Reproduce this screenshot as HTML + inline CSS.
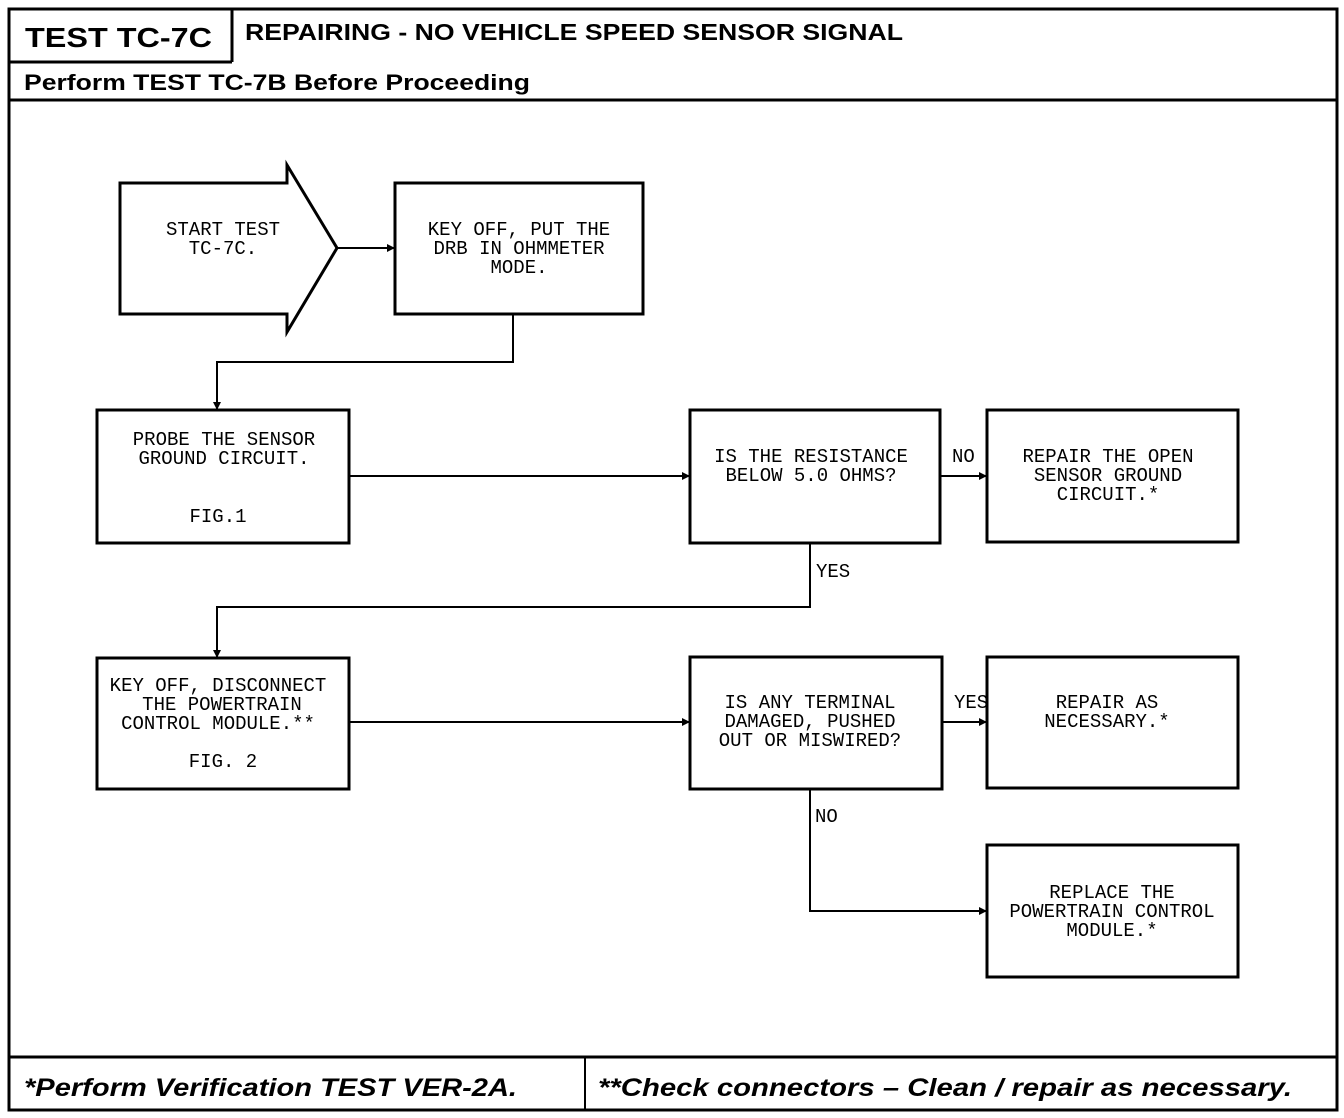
<!DOCTYPE html>
<html><head><meta charset="utf-8"><style>
html,body{margin:0;padding:0;background:#fff}
svg{display:block}
.m{font-family:"Liberation Mono",monospace;font-size:19px;fill:#000;text-anchor:middle}
.l{font-family:"Liberation Mono",monospace;font-size:19px;fill:#000}
.h{font-family:"Liberation Sans",sans-serif;font-weight:bold;fill:#000}
</style></head><body>
<svg width="1344" height="1118" viewBox="0 0 1344 1118" xmlns="http://www.w3.org/2000/svg">
<defs><marker id="a" markerWidth="8" markerHeight="8" refX="7" refY="4" orient="auto" markerUnits="userSpaceOnUse"><path d="M0,0 L8,4 L0,8 z" fill="#000"/></marker></defs>
<g fill="none" stroke="#000" stroke-width="3">
<rect x="9" y="9" width="1328" height="1101"/>
<line x1="9" y1="62" x2="232" y2="62"/>
<line x1="232" y1="9" x2="232" y2="62"/>
<line x1="9" y1="100" x2="1337" y2="100"/>
<line x1="9" y1="1057" x2="1337" y2="1057"/>
<line x1="585" y1="1057" x2="585" y2="1110" stroke-width="2"/>
<path d="M120,183 L287,183 L287,165 L337,248 L287,332 L287,314 L120,314 Z"/>
<rect x="395" y="183" width="248" height="131"/>
<rect x="97" y="410" width="252" height="133"/>
<rect x="690" y="410" width="250" height="133"/>
<rect x="987" y="410" width="251" height="132"/>
<rect x="97" y="658" width="252" height="131"/>
<rect x="690" y="657" width="252" height="132"/>
<rect x="987" y="657" width="251" height="131"/>
<rect x="987" y="845" width="251" height="132"/>
</g>
<g fill="none" stroke="#000" stroke-width="2">
<line x1="337" y1="248" x2="394" y2="248" marker-end="url(#a)"/>
<polyline points="513,314 513,362 217,362 217,409" marker-end="url(#a)"/>
<line x1="349" y1="476" x2="689" y2="476" marker-end="url(#a)"/>
<line x1="940" y1="476" x2="986" y2="476" marker-end="url(#a)"/>
<polyline points="810,543 810,607 217,607 217,657" marker-end="url(#a)"/>
<line x1="349" y1="722" x2="689" y2="722" marker-end="url(#a)"/>
<line x1="942" y1="722" x2="986" y2="722" marker-end="url(#a)"/>
<polyline points="810,789 810,911 986,911" marker-end="url(#a)"/>
</g>
<text class="h" x="25" y="47" font-size="28" textLength="187" lengthAdjust="spacingAndGlyphs">TEST TC-7C</text>
<text class="h" x="245" y="40" font-size="23" textLength="658" lengthAdjust="spacingAndGlyphs">REPAIRING - NO VEHICLE SPEED SENSOR SIGNAL</text>
<text class="h" x="24" y="90" font-size="22" textLength="506" lengthAdjust="spacingAndGlyphs">Perform TEST TC-7B Before Proceeding</text>
<text class="h" x="24" y="1096" font-size="25" font-style="italic" textLength="493" lengthAdjust="spacingAndGlyphs">*Perform Verification TEST VER-2A.</text>
<text class="h" x="598" y="1096" font-size="25" font-style="italic" textLength="694" lengthAdjust="spacingAndGlyphs">**Check connectors – Clean / repair as necessary.</text>
<text class="m" x="223" y="235">START TEST</text>
<text class="m" x="223" y="254">TC-7C.</text>
<text class="m" x="519" y="235">KEY OFF, PUT THE</text>
<text class="m" x="519" y="254">DRB IN OHMMETER</text>
<text class="m" x="519" y="273">MODE.</text>
<text class="m" x="224" y="445">PROBE THE SENSOR</text>
<text class="m" x="224" y="464">GROUND CIRCUIT.</text>
<text class="m" x="218" y="522">FIG.1</text>
<text class="m" x="811" y="462">IS THE RESISTANCE</text>
<text class="m" x="811" y="481">BELOW 5.0 OHMS?</text>
<text class="l" x="952" y="462">NO</text>
<text class="m" x="1108" y="462">REPAIR THE OPEN</text>
<text class="m" x="1108" y="481">SENSOR GROUND</text>
<text class="m" x="1108" y="500">CIRCUIT.*</text>
<text class="l" x="816" y="577">YES</text>
<text class="m" x="218" y="691">KEY OFF, DISCONNECT</text>
<text class="m" x="222" y="710">THE POWERTRAIN</text>
<text class="m" x="218" y="729">CONTROL MODULE.**</text>
<text class="m" x="223" y="767">FIG. 2</text>
<text class="m" x="810" y="708">IS ANY TERMINAL</text>
<text class="m" x="810" y="727">DAMAGED, PUSHED</text>
<text class="m" x="810" y="746">OUT OR MISWIRED?</text>
<text class="l" x="954" y="708">YES</text>
<text class="m" x="1107" y="708">REPAIR AS</text>
<text class="m" x="1107" y="727">NECESSARY.*</text>
<text class="l" x="815" y="822">NO</text>
<text class="m" x="1112" y="898">REPLACE THE</text>
<text class="m" x="1112" y="917">POWERTRAIN CONTROL</text>
<text class="m" x="1112" y="936">MODULE.*</text>
</svg>
</body></html>
